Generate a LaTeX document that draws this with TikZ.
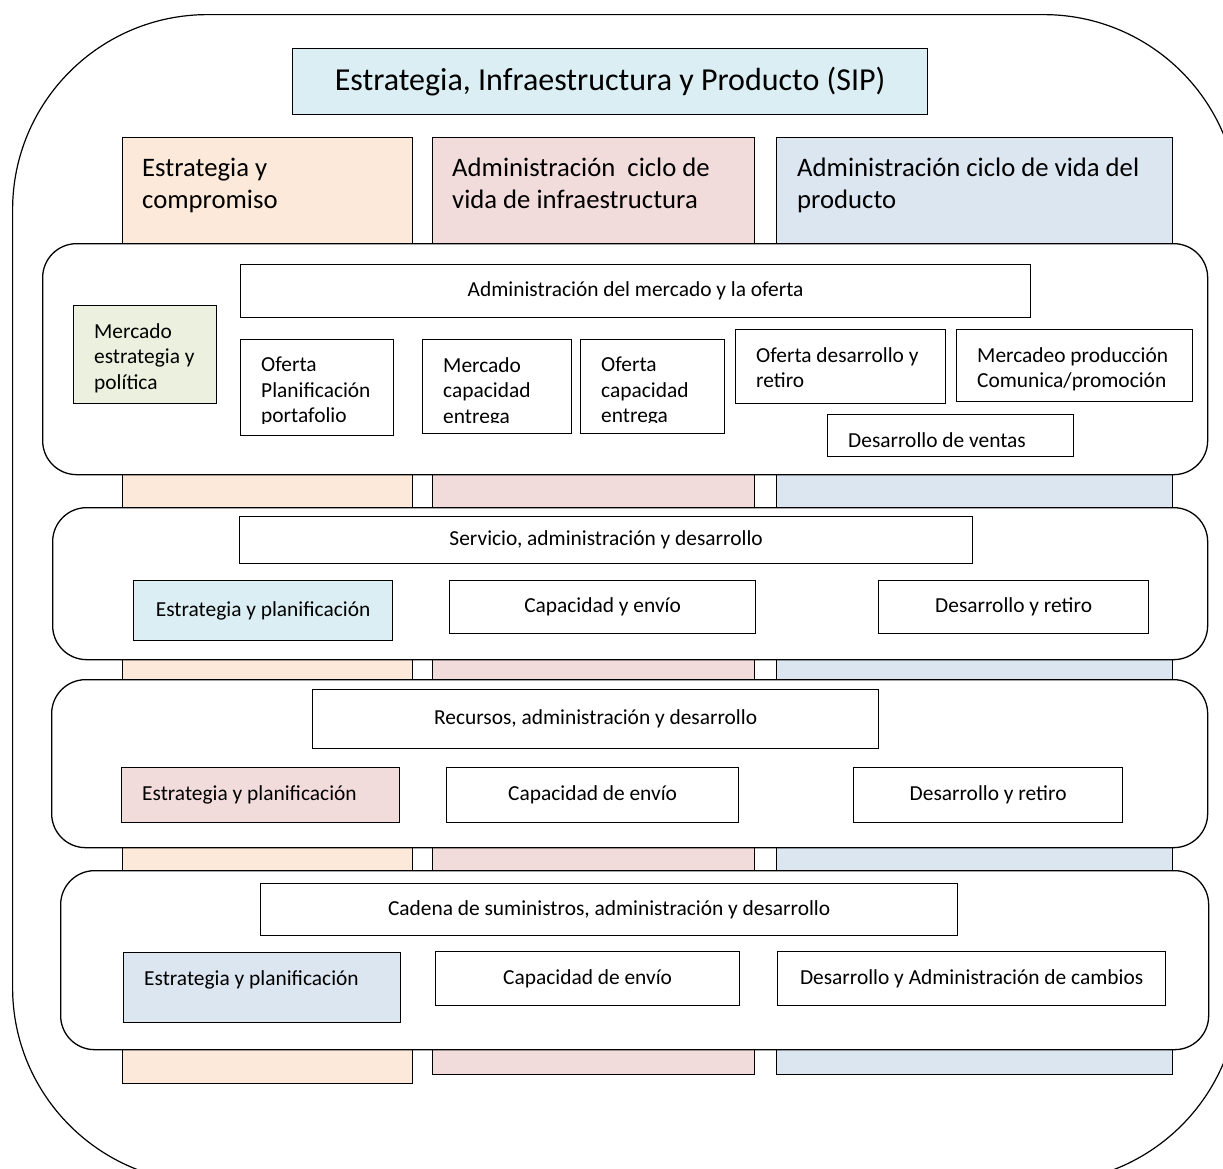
\documentclass[tikz,border=0pt]{standalone}
\usepackage{fontspec}
\setmainfont{Carlito}
\usetikzlibrary{positioning}
\definecolor{aquaL}{HTML}{DAEEF3}
\definecolor{orangeL}{HTML}{FDE9D9}
\definecolor{pinkL}{HTML}{F2DCDB}
\definecolor{blueL}{HTML}{DCE6F1}
\definecolor{greenL}{HTML}{EBF1DE}
\begin{document}
\begin{tikzpicture}[
  x=1pt, y=-1pt,
  frame/.style={draw, rounded corners=195pt, line width=1.2pt,
    inner sep=0pt, anchor=north west},
  col/.style={draw, line width=1.1pt, inner sep=0pt, anchor=north west},
  band/.style={draw, fill=white, rounded corners=34pt, line width=1.3pt,
    inner sep=0pt, anchor=north west},
  B/.style={draw, fill=white, line width=1.2pt, inner sep=0pt,
    anchor=north west, align=center,
    font=\fontsize{21.4pt}{25.5pt}\selectfont},
  hdr/.style={anchor=north west, inner sep=0pt, align=left,
    font=\fontsize{26.7pt}{32pt}\selectfont},
  cut/.store in=\boxcut, cut=0pt,
  toptext/.style={path picture={
    \clip ([yshift=\boxcut]path picture bounding box.south west)
      rectangle (path picture bounding box.north east);
    \node[draw=none, fill=none, anchor=north west, inner sep=0pt, align=left,
      minimum width=0pt, minimum height=0pt,
      font=\fontsize{21.4pt}{25.5pt}\selectfont]
      at ([xshift=20pt,yshift=-17pt]path picture bounding box.north west) {#1};}},
]
\clip (0,0) rectangle (1223,1168);

%% OUTER FRAME
\node[frame, minimum width=1226pt, minimum height=1168pt] (frame) at (12,14) {};

%% TITLE
\node[draw, fill=aquaL, line width=1.2pt, inner sep=0pt, anchor=north west,
      minimum width=635pt, minimum height=66pt,
      font=\fontsize{32pt}{38pt}\selectfont] (title) at (292,48)
  {Estrategia, Infraestructura y Producto (SIP)};

%% COLUMNS
\node[col, fill=orangeL, minimum width=290pt, minimum height=946pt] (colA) at (122,137) {};
\node[col, fill=pinkL,   minimum width=322pt, minimum height=937pt] (colB) at (432,137) {};
\node[col, fill=blueL,   minimum width=396pt, minimum height=937pt] (colC) at (776,137) {};
\node[hdr] (hdrA) at (142,158) {Estrategia y\\compromiso};
\node[hdr] (hdrB) at (452,158) {Administración~ ciclo de\\vida de infraestructura};
\node[hdr] (hdrC) at (797,158) {Administración ciclo de vida del\\producto};

%% BAND 1: mercado y oferta
\node[band, minimum width=1165pt, minimum height=231pt] (bandMkt) at (42,243) {};
\node[B, minimum width=790pt, minimum height=53pt] (mktHead) at (240,264)
  {Administración del mercado y la oferta};
\node[B, fill=greenL, minimum width=143pt, minimum height=98pt,
      toptext={Mercado\\estrategia y\\política}] (mktPol) at (73,305) {};
\node[B, minimum width=153pt, minimum height=96pt, cut=12pt,
      toptext={Oferta\\Planificación\\portafolio}] (ofPlan) at (240,339) {};
\node[B, minimum width=149pt, minimum height=94pt, cut=11pt,
      toptext={Mercado\\capacidad\\entrega}] (mkCap) at (422,339) {};
\node[B, minimum width=144pt, minimum height=94pt, cut=11pt,
      toptext={Oferta\\capacidad\\entrega}] (ofCap) at (580,339) {};
\node[B, minimum width=210pt, minimum height=74pt,
      toptext={Oferta desarrollo y\\retiro}] (ofDev) at (735,329) {};
\node[B, minimum width=236pt, minimum height=72pt,
      toptext={Mercadeo producción\\Comunica/promoción}] (mkProd) at (956,329) {};
\node[B, minimum width=246pt, minimum height=42pt,
      toptext={Desarrollo de ventas}] (sales) at (827,414) {};

%% BAND 2: servicio
\node[band, minimum width=1155pt, minimum height=152pt] (bandSvc) at (52,507) {};
\node[B, minimum width=733pt, minimum height=47pt] (svcHead) at (239,516)
  {Servicio, administración y desarrollo};
\node[B, fill=aquaL, minimum width=259pt, minimum height=60pt] (svcStr) at (133,580)
  {Estrategia y planificación};
\node[B, minimum width=306pt, minimum height=53pt] (svcCap) at (449,580)
  {Capacidad y envío};
\node[B, minimum width=270pt, minimum height=53pt] (svcDev) at (878,580)
  {Desarrollo y retiro};

%% BAND 3: recursos
\node[band, minimum width=1156pt, minimum height=168pt] (bandRes) at (51,679) {};
\node[B, minimum width=566pt, minimum height=59pt] (resHead) at (312,689)
  {Recursos, administración y desarrollo};
\node[B, fill=pinkL, minimum width=278pt, minimum height=55pt,
      toptext={Estrategia y planificación}] (resStr) at (121,767) {};
\node[B, minimum width=292pt, minimum height=55pt] (resCap) at (446,767)
  {Capacidad de envío};
\node[B, minimum width=269pt, minimum height=55pt] (resDev) at (853,767)
  {Desarrollo y retiro};

%% BAND 4: cadena de suministros
\node[band, minimum width=1148pt, minimum height=179pt] (bandSup) at (60,870) {};
\node[B, minimum width=697pt, minimum height=52pt] (supHead) at (260,883)
  {Cadena de suministros, administración y desarrollo};
\node[B, fill=blueL, minimum width=277pt, minimum height=70pt,
      toptext={Estrategia y planificación}] (supStr) at (123,952) {};
\node[B, minimum width=304pt, minimum height=54pt] (supCap) at (435,951)
  {Capacidad de envío};
\node[B, minimum width=388pt, minimum height=54pt] (supDev) at (777,951)
  {Desarrollo y Administración de cambios};

\end{tikzpicture}
\end{document}
